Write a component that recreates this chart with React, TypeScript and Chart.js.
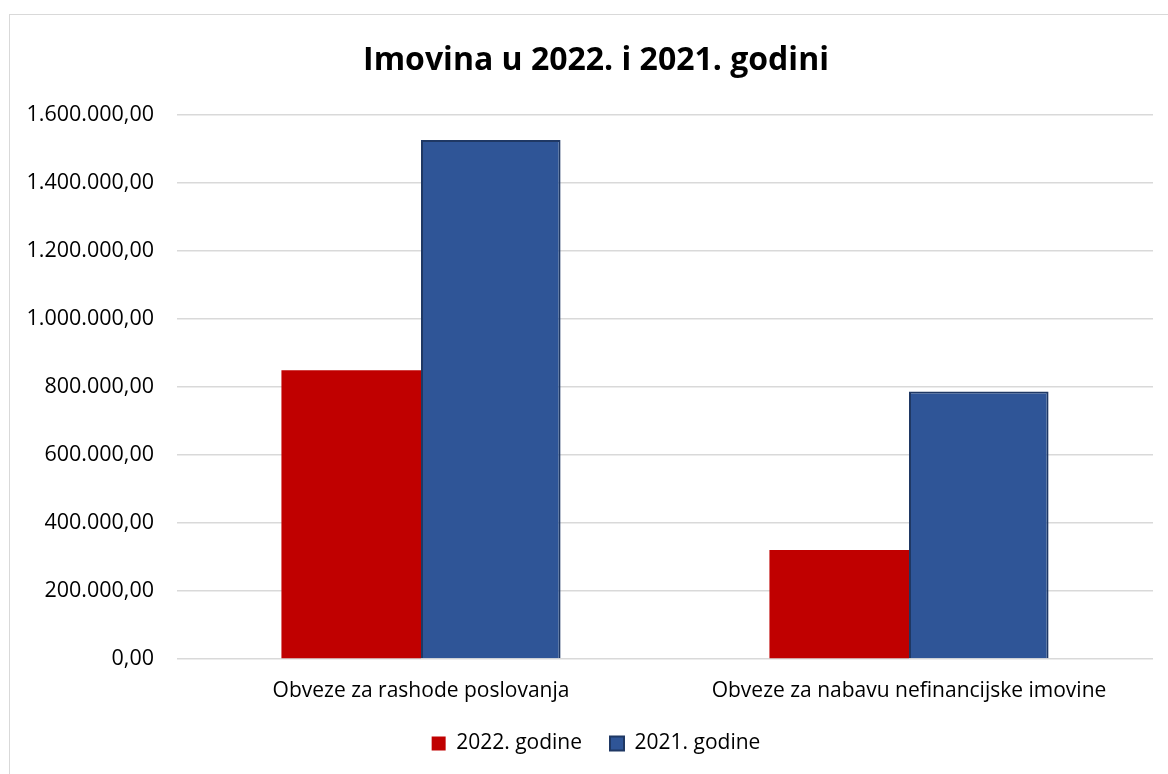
import React, { useEffect, useRef } from "react";
import { Chart, registerables } from "chart.js";

Chart.register(...registerables);

const chartTitle = "Imovina u 2022. i 2021. godini";
const categories = ["Obveze za rashode poslovanja", "Obveze za nabavu nefinancijske imovine"];
const seriesNames = ["2022. godine", "2021. godine"];
const values2022 = [848000, 320000];
const values2021 = [1525000, 786000];
const yMin = 0;
const yMax = 1600000;
const yStep = 200000;

function formatHr(v: number): string {
  const fixed = Math.abs(v).toFixed(2);
  const [intPart, dec] = fixed.split(".");
  const withDots = intPart.replace(/\B(?=(\d{3})+(?!\d))/g, ".");
  return (v < 0 ? "-" : "") + withDots + "," + dec;
}

const FONT = "'Open Sans', 'DejaVu Sans', sans-serif";

export default function App() {
  const canvasRef = useRef<HTMLCanvasElement | null>(null);

  useEffect(() => {
    if (!canvasRef.current) return;
    const chart = new Chart(canvasRef.current, {
      type: "bar",
      data: {
        labels: categories,
        datasets: [
          {
            label: seriesNames[0],
            data: values2022,
            backgroundColor: "#C00000",
            borderColor: "#C00000",
            borderWidth: 0,
            categoryPercentage: 0.572,
            barPercentage: 1,
          },
          {
            label: seriesNames[1],
            data: values2021,
            backgroundColor: "#2F5597",
            borderColor: "#1F3864",
            borderWidth: 2,
            categoryPercentage: 0.572,
            barPercentage: 1,
          },
        ],
      },
      options: {
        animation: false,
        responsive: false,
        maintainAspectRatio: false,
        layout: { padding: { left: 0, right: 0, top: 0, bottom: 29 } },
        plugins: {
          title: {
            display: true,
            text: chartTitle,
            color: "#000000",
            font: { family: FONT, size: 32, weight: "bold" },
            padding: { top: 27, bottom: 34 },
          },
          legend: {
            display: true,
            position: "bottom",
            labels: {
              color: "#000000",
              font: { family: FONT, size: 21 },
              boxWidth: 14,
              boxHeight: 14,
              padding: 28,
            },
          },
          tooltip: { enabled: false },
        },
        scales: {
          x: {
            grid: { display: false, drawTicks: false },
            border: { display: false },
            ticks: {
              color: "#000000",
              font: { family: FONT, size: 21 },
              padding: 19,
              maxRotation: 0,
            },
            afterFit: (scale: any) => {
              scale.height = 46;
            },
          },
          y: {
            position: "left",
            min: yMin,
            max: yMax,
            grid: { color: "#D9D9D9", lineWidth: 1.5, drawTicks: false },
            border: { display: false },
            ticks: {
              stepSize: yStep,
              color: "#000000",
              font: { family: FONT, size: 21.5 },
              padding: 23,
              callback: (v: any) => formatHr(Number(v)),
            },
            afterFit: (scale: any) => {
              scale.width = 167;
            },
          },
          yRightSpace: {
            type: "linear",
            position: "right",
            display: true,
            grid: { display: false, drawTicks: false },
            border: { display: false },
            ticks: { display: false },
            afterFit: (scale: any) => {
              scale.width = 29;
            },
          },
        },
      },
    });
    return () => chart.destroy();
  }, []);

  return (
    <div
      style={{
        position: "absolute",
        left: 0,
        top: 0,
        width: 1168,
        height: 774,
        overflow: "hidden",
        background: "#ffffff",
      }}
    >
      <div
        style={{
          position: "absolute",
          left: 9,
          top: 14,
          width: 1174,
          height: 780,
          border: "1px solid #D9D9D9",
          boxSizing: "border-box",
          background: "#ffffff",
        }}
      >
        <canvas ref={canvasRef} width={1172} height={778} style={{ display: "block" }} />
      </div>
    </div>
  );
}
